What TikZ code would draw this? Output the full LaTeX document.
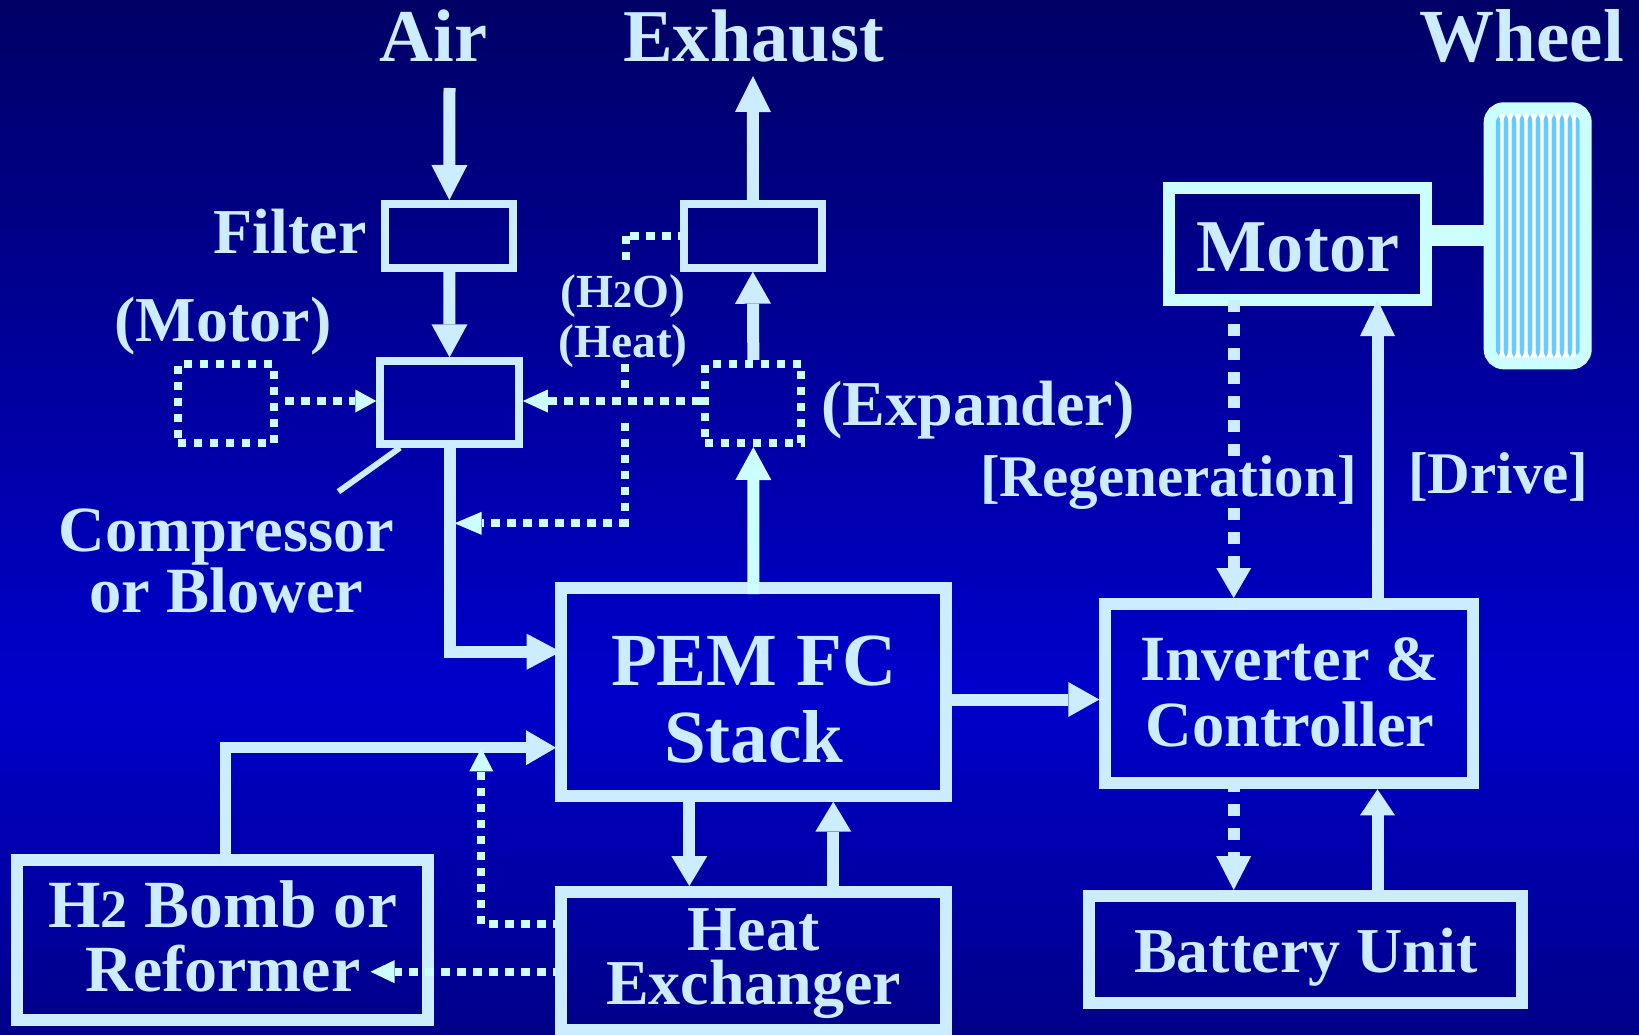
\documentclass[tikz,border=0pt]{standalone}
\usepackage{fontspec}
\setmainfont{Liberation Serif}
\usetikzlibrary{arrows.meta,calc}
\definecolor{lite}{HTML}{CCECFF}
\definecolor{cyanl}{HTML}{CCFFFF}
\definecolor{stripe}{HTML}{66CCFF}
\definecolor{bgtop}{HTML}{000066}
\definecolor{bgmid}{HTML}{0000CC}
\definecolor{bgbot}{HTML}{000088}
\pgfdeclareverticalshading{pagebg}{100bp}{color(0bp)=(bgbot); color(25bp)=(bgbot); color(41.5bp)=(bgmid); color(75bp)=(bgtop); color(100bp)=(bgtop)}
\tikzset{
  lbl/.style 2 args={text=lite,inner sep=0pt,anchor=base,align=center,font=\bfseries\fontsize{#1}{#2}\selectfont},
  boxbig/.style={draw=lite,line width=12pt},
  boxdash/.style={draw=cyanl,line width=8pt,dash pattern=on 8pt off 8pt},
  ahead/.style 2 args={arrows={-{Triangle[length=#1pt,width=#2pt,line width=0pt]}}},
  flow/.style={draw=lite,line width=12pt},
  flowc/.style={draw=cyanl,line width=12pt},
  dots/.style={draw=cyanl,line width=8pt,dash pattern=on 8pt off 8pt},
  hdots/.style={draw=cyanl,line width=8pt,dash pattern=on 9pt off 7pt},
  bigdots/.style={draw=lite,line width=12pt,dash pattern=on 12pt off 12pt},
}
\begin{document}
\begin{tikzpicture}[x=1pt,y=-1pt]
\shade[shading=pagebg] (0,0) rectangle (1639,1035);
\useasboundingbox (0,0) rectangle (1639,1035);

% boxes
\node[draw=lite,line width=8pt,minimum width=128.1pt,minimum height=63.7pt,inner sep=0pt] (filter) at (449.35,235.85) {};
\node[draw=lite,line width=8pt,minimum width=137.6pt,minimum height=63.7pt,inner sep=0pt] (cooler) at (752.8,235.85) {};
\node[draw=lite,line width=8pt,minimum width=138.5pt,minimum height=82.4pt,inner sep=0pt] (comp) at (449.55,402.5) {};
\node[boxdash,minimum width=95.7pt,minimum height=79pt,inner sep=0pt] (mdash) at (225.85,403.5) {};
\node[boxdash,minimum width=96.1pt,minimum height=79pt,inner sep=0pt] (exp) at (753.35,403.5) {};
\node[draw=cyanl,line width=12pt,minimum width=256.4pt,minimum height=111.4pt,inner sep=0pt] (motor) at (1297.5,244) {};
\node[boxbig,minimum width=384.4pt,minimum height=207.7pt,inner sep=0pt] (pem) at (753.5,691.85) {};
\node[boxbig,minimum width=384.4pt,minimum height=138.3pt,inner sep=0pt] (hx) at (753.5,961.15) {};
\node[boxbig,minimum width=410.8pt,minimum height=159.4pt,inner sep=0pt] (h2) at (222.6,940) {};
\node[boxbig,minimum width=368pt,minimum height=179.3pt,inner sep=0pt] (inv) at (1289.3,693.65) {};
\node[boxbig,minimum width=432.4pt,minimum height=107.3pt,inner sep=0pt] (batt) at (1305.5,949.65) {};
\node[draw=cyanl,line width=12pt,fill=white,rounded corners=14pt,minimum width=96pt,minimum height=255pt,inner sep=0pt,
  path picture={\foreach \k in {0,...,10}{
    \fill[stripe] ([xshift=5.8pt+8pt*\k]path picture bounding box.north west) rectangle ([xshift=10.6pt+8pt*\k]path picture bounding box.south west);}}] (wheel) at (1537.7,235.8) {};

% named free ends
\coordinate (airin) at (449.5,88);
\coordinate (exout) at (753,76);
\coordinate (rowy) at (0,401);
\coordinate (shaft) at (1483.7,235.8);
\coordinate (pemtop) at (753.3,594);
\coordinate (pemair) at (560.7,651.7);
\coordinate (h2bend) at (225.4,747.7);
\coordinate (h2tip) at (556,747.7);
\coordinate (elecy) at (0,699.5);
\coordinate (leadA) at (400,447.7);
\coordinate (leadB) at (338.4,491.7);
\coordinate (wv1) at (625.6,260);
\coordinate (wv2) at (625.6,236);
\coordinate (wh1) at (630,236);
\coordinate (hv1) at (625.4,364);
\coordinate (hv2) at (625.4,388);
\coordinate (rv1) at (625.4,422.7);
\coordinate (rv2) at (625.4,527);
\coordinate (rh1) at (628,523.3);
\coordinate (rh2) at (454.5,523.3);
\coordinate (regen) at (1233.7,300);
\coordinate (regA) at (1233.7,456);
\coordinate (regB) at (1233.7,508.3);
\coordinate (drv) at (1377.5,0);
\coordinate (drvtip) at (1377.5,300);
\coordinate (hxup) at (689.3,0);
\coordinate (hxdn) at (833.3,0);
\coordinate (recs) at (489.3,924);
\coordinate (recup) at (481.3,924);
\coordinate (rectip) at (481.3,748.3);
\coordinate (rfy) at (0,971.7);
\coordinate (rftip) at (370.5,971.7);

% solid connectors
\draw[flow,ahead={35}{36}] (airin) -- (filter.north);
\draw[flow,ahead={36}{36}] (cooler.north) -- (exout);
\draw[flow,ahead={33}{36}] (filter.south) -- (comp.north);
\draw[flow,ahead={32}{36}] (exp.north) -- (cooler.south);
\draw[flowc,ahead={33}{36}] (pemtop) -- (exp.south);
\draw[flow,ahead={34}{36}] (comp.south) |- (pemair);
\draw[draw=lite,line width=11.5pt,ahead={30}{35}] (h2.north -| h2bend) |- (h2tip);
\draw[draw=lite,line width=6pt] (leadA) -- (leadB);
\draw[flow,ahead={31}{35}] (elecy -| pem.east) -- (elecy -| inv.west);
\draw[flow,ahead={30}{36}] (pem.south -| hxup) -- (hx.north -| hxup);
\draw[flow,ahead={30}{36}] (hx.north -| hxdn) -- (pem.south -| hxdn);
\draw[flow,ahead={36}{35}] (inv.north -| drv) -- (drvtip);
\draw[flow,ahead={26}{35}] (batt.north -| drv) -- (inv.south -| drv);
\draw[draw=cyanl,line width=21pt] (shaft -| motor.east) -- (shaft);

% dotted connectors
\draw[hdots,dash phase=9pt,ahead={21}{23}] (mdash.east |- rowy) -- (comp.west |- rowy);
\draw[hdots,ahead={25}{23}] (exp.west |- rowy) -- (comp.east |- rowy);
\draw[dots] (wv1) -- (wv2);
\draw[hdots] (wh1) -- (wh1 -| cooler.west);
\draw[dots] (hv1) -- (hv2);
\draw[dots] (rv1) -- (rv2);
\draw[hdots,ahead={27}{23}] (rh1) -- (rh2);
\draw[hdots,dash phase=7pt] (recup -| hx.west) -- (recs);
\draw[dots,ahead={23}{24}] (recup) -- (rectip);
\draw[hdots,dash phase=7pt,ahead={24}{23}] (rfy -| hx.west) -- (rftip);
\draw[bigdots] (regen) -- (regA);
\draw[bigdots,ahead={30}{35}] (regB) -- (regB |- inv.north);
\draw[bigdots,dash phase=9.3pt,ahead={34}{35}] (regB |- inv.south) -- (regB |- batt.north);

% labels
\node[lbl={74.5}{75}] (tair) at (433.5,61.7) {Air};
\node[lbl={74.5}{75}] (texh) at (753.7,61.7) {Exhaust};
\node[lbl={75}{75}] (twh) at (1521.8,61.7) {Wheel};
\node[lbl={64}{64}] (tfil) at (290,253.3) {Filter};
\node[lbl={64}{64}] (tmot) at (223,341.7) {(Motor)};
\node[lbl={64}{64}] (texp) at (978,425) {(Expander)};
\node[lbl={59}{59}] (treg) at (1168.5,496) {[Regeneration]};
\node[lbl={59}{59}] (tdrv) at (1498.3,493.3) {[Drive]};
\node[lbl={64.5}{61.5}] (tcmp) at (226.3,612.5) {Compressor\\or Blower};
\node[lbl={47.5}{50.4}] (twat) at (623,357.7) {(H{\fontsize{38}{38}\selectfont 2}O)\\(Heat)};
\node[lbl={74.5}{74}] (tmtr) at (1298,271.7) {Motor};
\node[lbl={75}{77}] (tpem) at (753.7,762.7) {PEM FC\\Stack};
\node[lbl={64}{54}] (thx) at (753.7,1004) {Heat\\Exchanger};
\node[lbl={64.5}{66}] (tinv) at (1290,746.7) {Inverter \&\\Controller};
\node[lbl={66}{64}] (th2) at (223,991.7) {{\fontsize{67.5}{64}\selectfont H{\fontsize{54}{54}\selectfont 2} Bomb or}\\Reformer};
\node[lbl={64}{64}] (tbat) at (1305.8,972.7) {Battery Unit};
\end{tikzpicture}
\end{document}
